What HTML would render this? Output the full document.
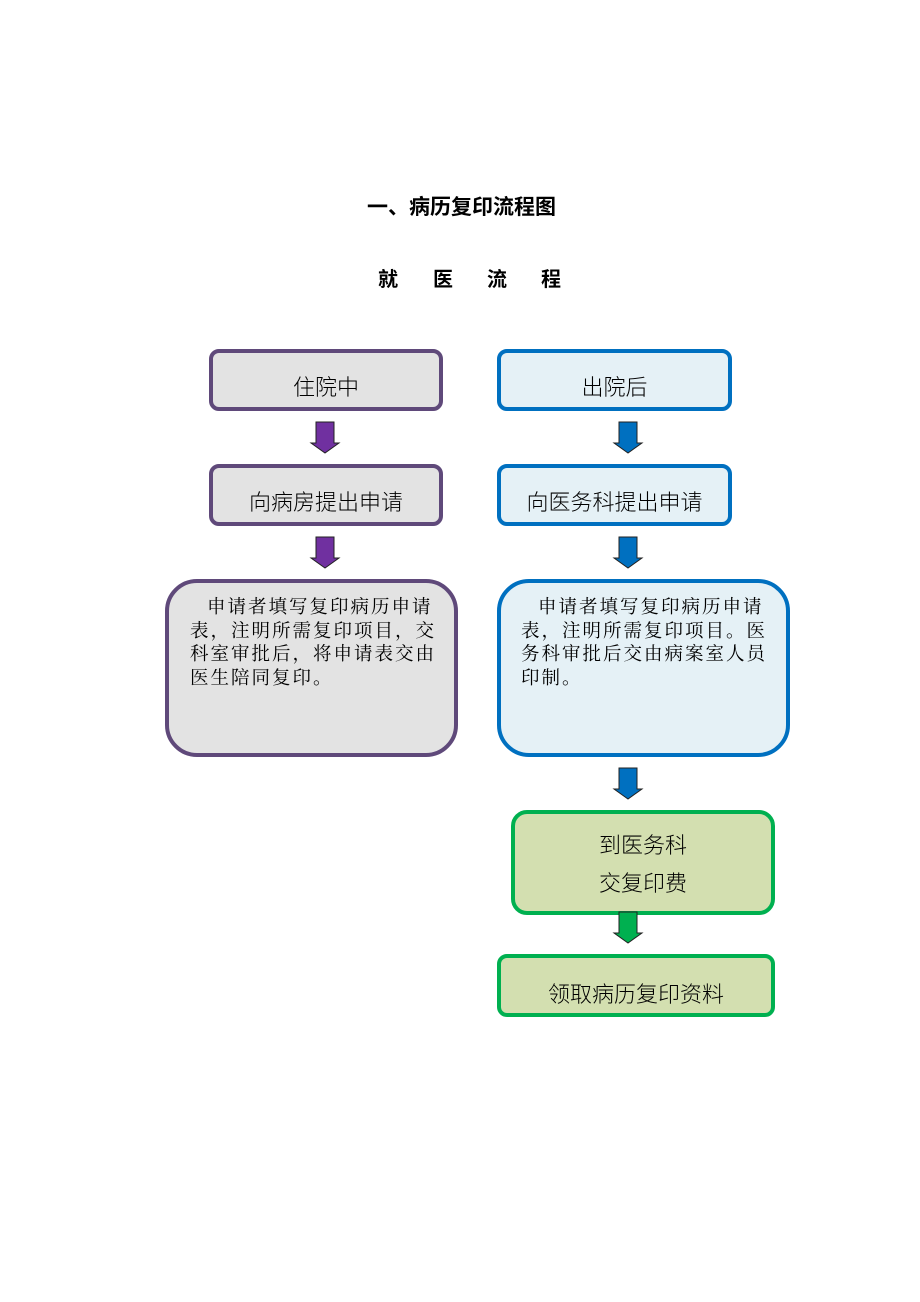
<!DOCTYPE html>
<html><head><meta charset="utf-8"><style>
body{margin:0;width:920px;height:1302px;background:#fff;position:relative;font-family:"Liberation Serif","Noto Serif CJK SC","Noto Sans CJK SC",serif;color:#000}
.b{position:absolute;box-sizing:border-box;border-width:4px;border-style:solid;display:flex;align-items:center;justify-content:center;font-size:22px;font-family:"Liberation Sans","Noto Sans CJK SC",sans-serif;font-weight:300}
.p{border-color:#5f497a;background:#e3e3e3}
.u{border-color:#0070c0;background:#e5f1f6}
.g{border-color:#00b050;background:#d3dfb0}
.t{position:absolute;font-size:18.5px;line-height:23.5px;letter-spacing:2px;text-indent:17px;font-family:"Liberation Serif","Noto Serif CJK SC",serif}
svg{position:absolute}
.h{position:absolute;font-size:20px;font-weight:bold;font-family:'Liberation Sans','Noto Sans CJK SC',sans-serif}
</style></head><body>
<div style="position:absolute;left:367px;top:191px;font-size:21px;font-weight:bold;white-space:nowrap;font-family:'Liberation Sans','Noto Sans CJK SC',sans-serif">一、病历复印流程图</div>
<div class="h" style="left:378px;top:263px">就</div>
<div class="h" style="left:433px;top:263px">医</div>
<div class="h" style="left:487px;top:263px">流</div>
<div class="h" style="left:541px;top:263px">程</div>

<div class="b p" style="left:209px;top:349px;width:234px;height:62px;border-radius:10px;padding-top:12px">住院中</div>
<div class="b u" style="left:497px;top:349px;width:235px;height:62px;border-radius:10px;padding-top:12px">出院后</div>
<div class="b p" style="left:209px;top:464px;width:234px;height:62px;border-radius:10px;padding-top:12px">向病房提出申请</div>
<div class="b u" style="left:497px;top:464px;width:235px;height:62px;border-radius:10px;padding-top:12px">向医务科提出申请</div>
<div class="b p" style="left:165px;top:579px;width:293px;height:178px;border-radius:32px"></div>
<div class="b u" style="left:497px;top:579px;width:293px;height:178px;border-radius:32px"></div>
<div class="t" style="left:190px;top:597px;width:252px">申请者填写复印病历申请表，注明所需复印项目，交科室审批后，将申请表交由医生陪同复印。</div>
<div class="t" style="left:521px;top:597px;width:252px">申请者填写复印病历申请表，注明所需复印项目。医务科审批后交由病案室人员印制。</div>
<div class="b g" style="left:511px;top:810px;width:264px;height:105px;border-radius:16px;flex-direction:column;line-height:38px;padding-top:4px">到医务科<br>交复印费</div>
<div class="b g" style="left:497px;top:954px;width:278px;height:63px;border-radius:10px;padding-top:14px">领取病历复印资料</div>

<svg width="920" height="1302" style="left:0;top:0">
<defs><path id="ar" d="M-9 0 H9 V21 H14 L0 31 L-14 21 H-9 Z" stroke="#222" stroke-width="1"/></defs>
<use href="#ar" x="325" y="422" fill="#7030a0"/>
<use href="#ar" x="325" y="537" fill="#7030a0"/>
<use href="#ar" x="628" y="422" fill="#0070c0"/>
<use href="#ar" x="628" y="537" fill="#0070c0"/>
<use href="#ar" x="628" y="768" fill="#0070c0"/>
<use href="#ar" x="628" y="912" fill="#00b050"/>
</svg>
</body></html>
